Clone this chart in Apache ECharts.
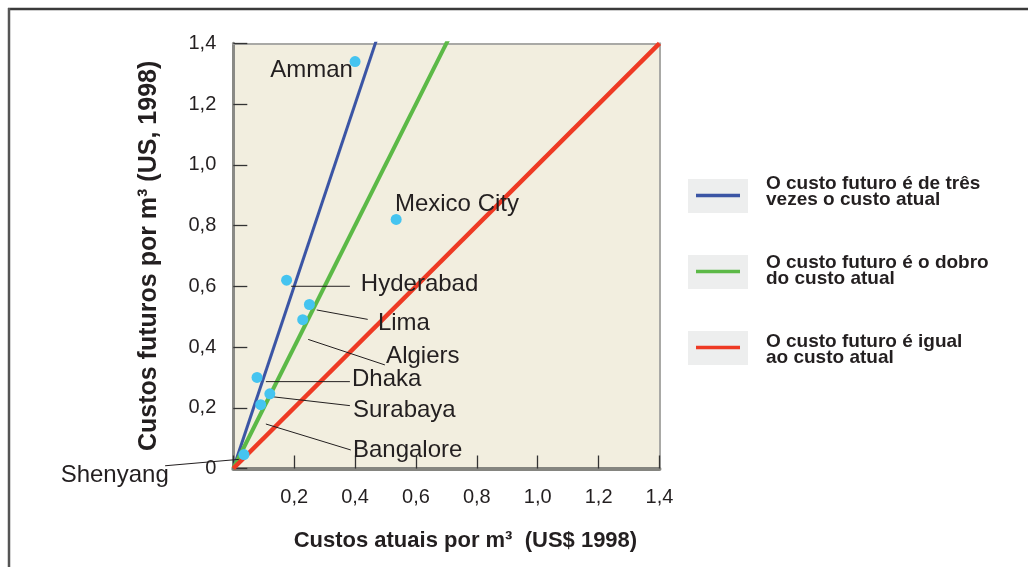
<!DOCTYPE html>
<html>
<head>
<meta charset="utf-8">
<script src="https://cdn.jsdelivr.net/npm/echarts@6/dist/echarts.min.js"></script>
<style>
html,body{margin:0;padding:0;background:#fff;}
#chart{width:1028px;height:567px;}
</style>
</head>
<body>
<div id="chart"></div>
<script>
// ---- data ----
const cities = ['Amman','Mexico City','Hyderabad','Lima','Algiers','Dhaka','Surabaya','Bangalore','Shenyang'];
const currentCost = [0.40, 0.535, 0.175, 0.25, 0.228, 0.078, 0.12, 0.09, 0.035];
const futureCost  = [1.34, 0.82, 0.62, 0.54, 0.49, 0.30, 0.246, 0.21, 0.046];
const ratioNames = [
  'O custo futuro é de três\nvezes o custo atual',
  'O custo futuro é o dobro\ndo custo atual',
  'O custo futuro é igual\nao custo atual'
];
const ratios = [3, 2, 1];
const xTickLabels = ['', '0,2', '0,4', '0,6', '0,8', '1,0', '1,2', '1,4'];
const yTickLabels = ['0', '0,2', '0,4', '0,6', '0,8', '1,0', '1,2', '1,4'];
const xName = 'Custos atuais por m³  (US$ 1998)';
const yName = 'Custos futuros por m³ (US, 1998)';

// ---- annotation layout (data units: label anchor + optional leader line) ----
const annotLayout = {
  'Amman':       {t:[0.393, 1.310], align:'right'},
  'Mexico City': {t:[0.531, 0.870], align:'left'},
  'Hyderabad':   {t:[0.419, 0.607], align:'left', l:[0.190, 0.600, 0.383, 0.600]},
  'Lima':        {t:[0.475, 0.479], align:'left', l:[0.274, 0.522, 0.4415, 0.491]},
  'Algiers':     {t:[0.502, 0.370], align:'left', l:[0.246, 0.425, 0.498, 0.341]},
  'Dhaka':       {t:[0.390, 0.294], align:'left', l:[0.107, 0.286, 0.383, 0.286]},
  'Surabaya':    {t:[0.393, 0.193], align:'left', l:[0.131, 0.236, 0.383, 0.207]},
  'Bangalore':   {t:[0.393, 0.059], align:'left', l:[0.107, 0.1465, 0.386, 0.061]},
  'Shenyang':    {t:[-0.212, -0.021], align:'right', l:[-0.224, 0.009, 0.018, 0.030]}
};

const lineColors = ['#3B55A5', '#5CB947', '#EE3A24'];
const lineWidths = [3, 4, 4.5];
const FONT = '"Liberation Sans", Arial, Helvetica, sans-serif';

// legend key geometry (pixels)
const keyBoxes = [179, 255, 331];

const chart = echarts.init(document.getElementById('chart'), null, {renderer:'canvas'});

const lineSeries = ratios.map((r, i) => ({
  type: 'line',
  name: ratioNames[i],
  data: [[0, 0], [1.4, 1.4 * r]],
  showSymbol: false,
  symbol: 'none',
  clip: true,
  silent: true,
  lineStyle: {color: lineColors[i], width: lineWidths[i], cap: 'butt'},
  itemStyle: {color: lineColors[i]},
  z: 2
}));

const annotData = cities.map((c, i) => [annotLayout[c].t[0], annotLayout[c].t[1], i]);

const keyGraphics = [];
keyBoxes.forEach((y, i) => {
  keyGraphics.push({type: 'rect', shape: {x: 688, y: y, width: 60, height: 34}, style: {fill: '#EDEEEE'}, z: 0});
  keyGraphics.push({type: 'line', shape: {x1: 696, y1: y + 16.5, x2: 740, y2: y + 16.5},
    style: {stroke: lineColors[i], lineWidth: 3.5}, z: 1});
});

const option = {
  animation: false,
  backgroundColor: '#ffffff',
  grid: {
    left: 233.3, right: 368.5, top: 43.3, bottom: 98.5,
    show: true, backgroundColor: '#F2EEDF', borderWidth: 0
  },
  xAxis: [{
    type: 'value', min: 0, max: 1.4, interval: 0.2,
    name: xName, nameLocation: 'middle', nameGap: 61,
    nameTextStyle: {fontFamily: FONT, fontSize: 22, fontWeight: 'bold', color: '#231F20', padding: [0, 0, 0, 38]},
    axisLine: {show: true, onZero: false, lineStyle: {color: '#858580', width: 4}},
    axisTick: {show: true, inside: true, length: 13, lineStyle: {color: '#333', width: 1.3}},
    axisLabel: {margin: 19, fontFamily: FONT, fontSize: 20, color: '#231F20',
      formatter: v => xTickLabels[Math.round(v / 0.2)]},
    splitLine: {show: false}
  }, {
    type: 'value', min: 0, max: 1.4, position: 'top',
    axisLine: {show: true, onZero: false, lineStyle: {color: '#A9A9A6', width: 2}},
    axisTick: {show: false}, axisLabel: {show: false}, splitLine: {show: false}
  }],
  yAxis: [{
    type: 'value', min: 0, max: 1.4, interval: 0.2,
    name: yName, nameLocation: 'middle', nameGap: 72,
    nameTextStyle: {fontFamily: FONT, fontSize: 25, fontWeight: 'bold', color: '#231F20'},
    axisLine: {show: true, onZero: false, lineStyle: {color: '#8A8A86', width: 3}},
    axisTick: {show: true, inside: true, length: 14, lineStyle: {color: '#333', width: 1.3}},
    axisLabel: {margin: 17, fontFamily: FONT, fontSize: 20, color: '#231F20',
      formatter: v => yTickLabels[Math.round(v / 0.2)]},
    splitLine: {show: false}
  }, {
    type: 'value', min: 0, max: 1.4, position: 'right',
    axisLine: {show: true, onZero: false, lineStyle: {color: '#A9A9A6', width: 2}},
    axisTick: {show: false}, axisLabel: {show: false}, splitLine: {show: false}
  }],
  legend: {
    orient: 'vertical', left: 696, top: 169.5,
    data: ratioNames, selectedMode: false,
    icon: 'rect', itemWidth: 44, itemHeight: 3.5, itemGap: 44,
    itemStyle: {opacity: 0},
    textStyle: {fontFamily: FONT, fontSize: 19, fontWeight: 'bold', color: '#231F20',
      lineHeight: 16, padding: [0, 0, 0, 16]},
    z: 5
  },
  graphic: [
    {type: 'line', shape: {x1: 8, y1: 9, x2: 1028, y2: 9}, style: {stroke: '#3a3a3a', lineWidth: 2.5}, z: 10},
    {type: 'line', shape: {x1: 9, y1: 8, x2: 9, y2: 567}, style: {stroke: '#555', lineWidth: 2.5}, z: 10}
  ].concat(keyGraphics),
  series: lineSeries.concat([
    {
      type: 'custom',
      name: 'annotations',
      silent: true,
      clip: false,
      z: 3,
      encode: {x: 0, y: 1},
      data: annotData,
      renderItem: function (params, api) {
        const idx = api.value(2);
        const name = cities[idx];
        const a = annotLayout[name];
        const p = api.coord([a.t[0], a.t[1]]);
        const children = [];
        if (a.l) {
          const p0 = api.coord([a.l[0], a.l[1]]);
          const p1 = api.coord([a.l[2], a.l[3]]);
          children.push({type: 'line', shape: {x1: p0[0], y1: p0[1], x2: p1[0], y2: p1[1]},
            style: {stroke: '#231F20', lineWidth: 1}});
        }
        children.push({type: 'text', x: p[0], y: p[1],
          style: {text: name, fill: '#231F20', font: '24px ' + FONT,
            align: a.align, verticalAlign: 'middle', textAlign: a.align, textVerticalAlign: 'middle'}});
        return {type: 'group', children: children};
      }
    },
    {
      type: 'scatter',
      name: 'cidades',
      data: cities.map((c, i) => [currentCost[i], futureCost[i]]),
      symbolSize: 11,
      itemStyle: {color: '#45C4F0', opacity: 1},
      silent: true,
      z: 4
    }
  ])
};
chart.setOption(option);
</script>
</body>
</html>
